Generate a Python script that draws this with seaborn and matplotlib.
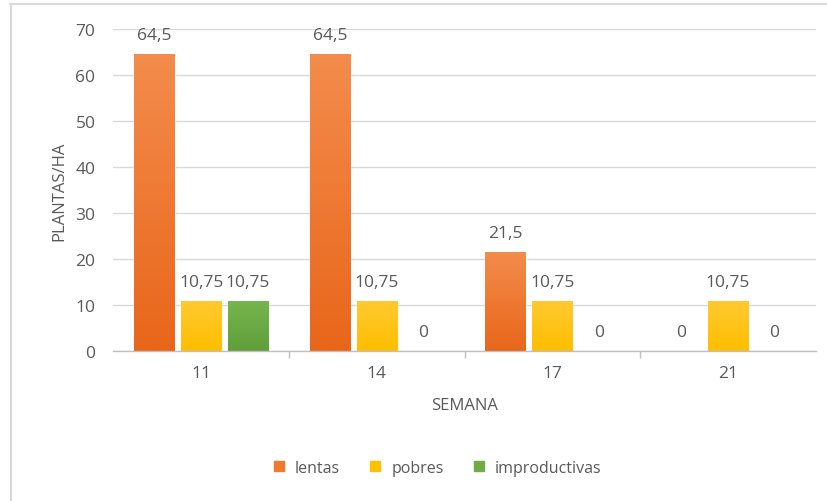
import matplotlib
matplotlib.use("Agg")
import matplotlib.pyplot as plt
import seaborn as sns
import pandas as pd
import numpy as np
from matplotlib.lines import Line2D
from matplotlib.colors import LinearSegmentedColormap

semanas = ["11", "14", "17", "21"]
lentas = [64.5, 64.5, 21.5, 0]
pobres = [10.75, 10.75, 10.75, 10.75]
improductivas = [10.75, 0, 0, 0]
series_names = ["lentas", "pobres", "improductivas"]
colors = ["#EF7A2E", "#FFC000", "#6FAC46"]
grad_top = ["#F48C4C", "#FFCA30", "#77B54E"]
grad_bot = ["#E8661A", "#FFBE00", "#5F9E3A"]

rows = []
for name, vals in zip(series_names, [lentas, pobres, improductivas]):
    for s, v in zip(semanas, vals):
        rows.append({"SEMANA": s, "valor": v, "serie": name})
df = pd.DataFrame(rows)

sns.set_theme(style="white")
plt.rcParams["font.family"] = ["Open Sans", "DejaVu Sans"]

fig = plt.figure(figsize=(8.28, 5.02), dpi=100)
ax = fig.add_axes([0.137, 0.299, 0.848, 0.641])

sns.barplot(data=df, x="SEMANA", y="valor", hue="serie", order=semanas,
            hue_order=series_names, palette=colors, width=0.8, gap=0.14,
            ax=ax, legend=False, saturation=1)

ax.set_ylim(0, 70)
ax.set_xlim(-0.5, 3.5)

# vertical gradient fill for each bar
grad = np.linspace(1, 0, 256).reshape(-1, 1)
for cont, top, bot in zip(ax.containers, grad_top, grad_bot):
    cmap = LinearSegmentedColormap.from_list("g", [bot, top])
    for b in cont:
        h = b.get_height()
        if h <= 0:
            continue
        x0 = b.get_x()
        w = b.get_width()
        im = ax.imshow(grad, extent=[x0, x0 + w, 0, h], aspect="auto",
                       cmap=cmap, vmin=0, vmax=1, zorder=b.get_zorder() + 0.1)
        im.set_clip_path(b)

def fmt(v):
    return ("%g" % v).replace(".", ",")

for cont in ax.containers:
    labels = [fmt(b.get_height()) for b in cont]
    ax.bar_label(cont, labels=labels, padding=8, fontsize=12.5, color="#595959")

ax.set_ylim(0, 70)
ax.set_xlim(-0.5, 3.5)
ax.set_yticks(range(0, 71, 10))
ax.yaxis.grid(True, color="#D9D9D9", linewidth=1)
ax.set_axisbelow(True)
for side in ["top", "right", "left"]:
    ax.spines[side].set_visible(False)
ax.spines["bottom"].set_color("#BFBFBF")
ax.spines["bottom"].set_linewidth(1)

ax.tick_params(axis="y", length=0, labelsize=12.5, labelcolor="#595959", pad=13)
ax.tick_params(axis="x", length=0, labelsize=12.5, labelcolor="#595959", pad=10)
ax.set_xticks([0.5, 1.5, 2.5], minor=True)
ax.tick_params(axis="x", which="minor", length=5, color="#BFBFBF", bottom=True)

ax.set_xlabel("SEMANA", fontsize=12, color="#595959", labelpad=12)
ax.set_ylabel("PLANTAS/HA", fontsize=12, color="#595959", labelpad=6)

handles = [Line2D([0], [0], marker="s", linestyle="none", markersize=7,
                  markerfacecolor=c, markeredgecolor=c) for c in colors]
fig.legend(handles, series_names, loc="center", bbox_to_anchor=(0.522, 0.066),
           ncol=3, frameon=False, fontsize=11.5, handletextpad=0.0,
           columnspacing=1.2, labelcolor="#595959")

# outer frame lines (top and left)
fig.add_artist(Line2D([0.012, 1.0], [0.991, 0.991], color="#D9D9D9", linewidth=1.5,
                      transform=fig.transFigure))
fig.add_artist(Line2D([0.0128, 0.0128], [0.0, 0.991], color="#D9D9D9", linewidth=1.5,
                      transform=fig.transFigure))

fig.savefig("out.png", dpi=100, facecolor="white")
